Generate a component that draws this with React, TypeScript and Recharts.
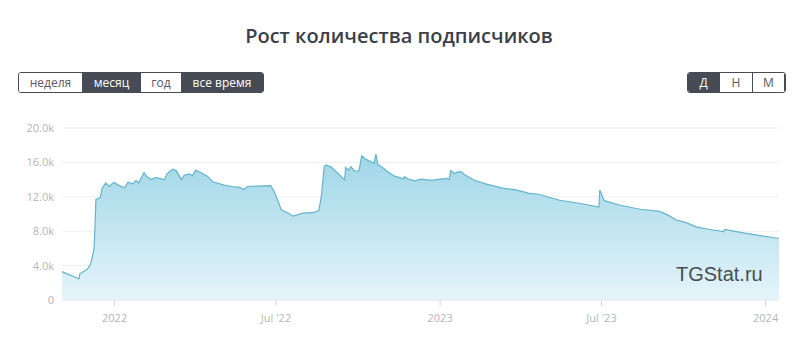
import React from 'react'
import { AreaChart, Area, XAxis, YAxis, CartesianGrid } from 'recharts'

const C = { ink: '#3b3f48', btn: '#474b55', tick: '#b2b6bc', grid: '#eeeff1', stroke: '#63b4cc' }

const dates = [
  '2021-11-03', '2021-11-22', '2021-11-23', '2021-12-01', '2021-12-05', '2021-12-07', '2021-12-09', '2021-12-10',
  '2021-12-11', '2021-12-16', '2021-12-18', '2021-12-22', '2021-12-26', '2021-12-31', '2022-01-06', '2022-01-12',
  '2022-01-16', '2022-01-21', '2022-01-25', '2022-01-28', '2022-01-31', '2022-02-03', '2022-02-06', '2022-02-11',
  '2022-02-16', '2022-02-26', '2022-03-01', '2022-03-07', '2022-03-11', '2022-03-15', '2022-03-17', '2022-03-20',
  '2022-03-26', '2022-03-29', '2022-04-02', '2022-04-08', '2022-04-15', '2022-04-21', '2022-04-28', '2022-05-04',
  '2022-05-13', '2022-05-21', '2022-05-26', '2022-05-30', '2022-06-10', '2022-06-25', '2022-06-28', '2022-07-03',
  '2022-07-07', '2022-07-14', '2022-07-20', '2022-07-31', '2022-08-11', '2022-08-18', '2022-08-21', '2022-08-24',
  '2022-08-26', '2022-09-01', '2022-09-16', '2022-09-17', '2022-09-20', '2022-09-23', '2022-09-27', '2022-10-02',
  '2022-10-05', '2022-10-10', '2022-10-19', '2022-10-21', '2022-10-23', '2022-10-31', '2022-11-03', '2022-11-11',
  '2022-11-21', '2022-11-22', '2022-11-26', '2022-12-03', '2022-12-11', '2022-12-22', '2022-12-28', '2023-01-08',
  '2023-01-11', '2023-01-13', '2023-01-17', '2023-01-21', '2023-01-25', '2023-01-28', '2023-02-08', '2023-02-21',
  '2023-03-12', '2023-03-27', '2023-04-11', '2023-04-22', '2023-05-03', '2023-05-15', '2023-06-06', '2023-06-28',
  '2023-06-29', '2023-07-04', '2023-07-21', '2023-08-13', '2023-09-04', '2023-09-13', '2023-09-23', '2023-10-04',
  '2023-10-15', '2023-10-30', '2023-11-15', '2023-11-16', '2023-11-29', '2023-12-22', '2024-01-16',
]

const subscribers = [
  3300, 2450, 3050, 3550, 4150, 5000, 6000, 8500,
  11700, 11900, 13000, 13600, 13200, 13700, 13300, 13050,
  13700, 13500, 13900, 13600, 14250, 14800, 14350, 14000,
  14250, 14000, 14700, 15200, 15050, 14350, 14000, 14500,
  14650, 14450, 15100, 14800, 14400, 13750, 13550, 13350,
  13200, 13100, 12850, 13200, 13250, 13300, 12800, 11600,
  10450, 10150, 9750, 10100, 10150, 10400, 12200, 15500,
  15700, 15450, 13950, 15400, 15100, 15500, 15000, 15000,
  16750, 16350, 15900, 16950, 15800, 15200, 14900, 14400,
  14100, 14350, 14100, 13850, 14050, 13900, 14000, 14150,
  14000, 15050, 14700, 14900, 14900, 14600, 13950, 13500,
  13000, 12800, 12400, 12300, 11950, 11600, 11250, 10800,
  12800, 11550, 11050, 10550, 10300, 9900, 9300, 9000,
  8500, 8200, 7950, 8200, 7950, 7550, 7150,
]

const yTicks = [0, 4000, 8000, 12000, 16000, 20000]
const xTickDates = ['2022-01-01', '2022-07-01', '2023-01-01', '2023-07-01', '2024-01-01']
const xTickLabels = ['2022', "Jul '22", '2023', "Jul '23", '2024']

const periods = [
  { label: 'неделя', w: 64, on: false },
  { label: 'месяц', w: 58, on: true },
  { label: 'год', w: 41, on: false },
  { label: 'все время', w: 81, on: true },
]
const steps = [
  { label: 'Д', w: 32, on: true },
  { label: 'Н', w: 33, on: false },
  { label: 'М', w: 32, on: false },
]

const ts = (d: string) => Date.parse(d + 'T00:00:00Z')
const data = dates.map((d, i) => ({ t: ts(d), v: subscribers[i] }))
const xTicks = xTickDates.map(ts)
const xLabel = (v: number) => xTickLabels[xTicks.indexOf(v)] ?? ''

function Group({ items, left }: { items: { label: string; w: number; on: boolean }[]; left: number }) {
  return (
    <div style={{ position: 'absolute', left, top: 72, height: 21, display: 'flex', border: `1px solid ${C.btn}`, borderRadius: 3, overflow: 'hidden', boxSizing: 'border-box' }}>
      {items.map(it => (
        <div key={it.label} style={{
          width: it.w, height: '100%', display: 'flex', alignItems: 'center', justifyContent: 'center',
          background: it.on ? C.btn : '#fff', color: it.on ? '#fff' : '#555a63', fontSize: 12,
          borderRight: '1px solid ' + C.btn, boxSizing: 'border-box',
        }}>{it.label}</div>
      ))}
    </div>
  )
}

export default function App() {
  return (
    <div style={{ position: 'absolute', left: 0, top: 0, width: 798, height: 350, background: '#fff', fontFamily: '"Open Sans", sans-serif', overflow: 'hidden' }}>
      <div style={{ position: 'absolute', top: 22, width: 798, textAlign: 'center', fontSize: 20, fontWeight: 600, color: C.ink }}>
        Рост количества подписчиков
      </div>
      <Group items={periods} left={18} />
      <Group items={steps} left={687} />
      <div style={{ position: 'absolute', left: 0, top: 0 }}>
        <AreaChart width={798} height={350} data={data} margin={{ top: 128, right: 19, bottom: 20, left: 12 }}>
          <defs>
            <linearGradient id="fillSubs" x1="0" y1="0" x2="0" y2="1">
              <stop offset="0%" stopColor="#9fd6e7" />
              <stop offset="100%" stopColor="#e5f4fa" />
            </linearGradient>
          </defs>
          <CartesianGrid vertical={false} stroke={C.grid} />
          <XAxis dataKey="t" type="number" scale="linear" domain={[ts('2021-11-03'), ts('2024-01-16')]} ticks={xTicks}
            tickFormatter={xLabel} height={30} tickSize={6} tickMargin={8}
            axisLine={{ stroke: '#e8eaed' }} tickLine={{ stroke: '#d4d7db' }}
            tick={{ fontSize: 11, fill: C.tick }} />
          <YAxis domain={[0, 20000]} ticks={yTicks} width={50} axisLine={false} tickLine={false}
            tick={{ fontSize: 11, fill: C.tick }}
            tickFormatter={(v: number) => (v === 0 ? '0' : `${(v / 1000).toFixed(1)}k`)} />
          <Area type="linear" dataKey="v" stroke={C.stroke} strokeWidth={1.2} fill="url(#fillSubs)" fillOpacity={1} isAnimationActive={false} dot={false} activeDot={false} />
        </AreaChart>
      </div>
      <div style={{ position: 'absolute', left: 676, top: 263, fontFamily: '"Liberation Sans", Arial, sans-serif', fontSize: 20, color: '#4a4d52' }}>
        TGStat.ru
      </div>
    </div>
  )
}
